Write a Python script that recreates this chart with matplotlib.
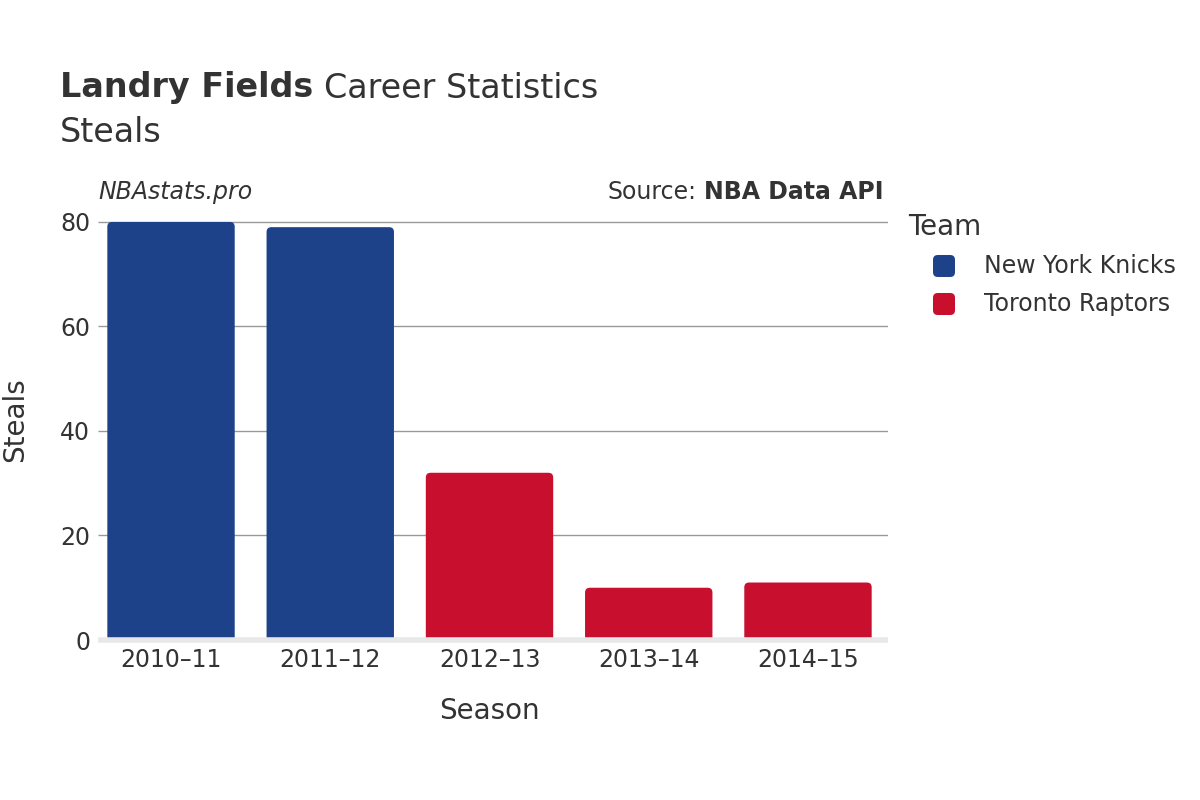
import matplotlib
matplotlib.use('Agg')
import matplotlib.pyplot as plt
from matplotlib.patches import FancyBboxPatch

# data
seasons = ['2010–11', '2011–12', '2012–13', '2013–14', '2014–15']
steals = [80, 79, 32, 10, 11]
teams = ['New York Knicks', 'New York Knicks', 'Toronto Raptors', 'Toronto Raptors', 'Toronto Raptors']
team_names = ['New York Knicks', 'Toronto Raptors']
team_colors = {'New York Knicks': '#1D428A', 'Toronto Raptors': '#C8102E'}

TXT = '#333333'

plt.rcParams['font.family'] = ['DejaVu Sans']
fig = plt.figure(figsize=(12, 8), dpi=100)
ax_l, ax_r = 91.4, 887.6
ax = fig.add_axes([ax_l / 1200, 0.2, (ax_r - ax_l) / 1200, 0.55])

ymax = 84.2
ax.set_xlim(-0.5, 4.5)
ax.set_ylim(0, ymax)

# aspect so rounded corners look round on screen
x_per_px = 5 / (ax_r - ax_l)
y_per_px = ymax / 440
aspect = y_per_px / x_per_px

width = 0.8
for i, (s, v, t) in enumerate(zip(seasons, steals, teams)):
    p = FancyBboxPatch((i - width / 2, -3), width, v + 3,
                       boxstyle='round,pad=0,rounding_size=0.03',
                       mutation_aspect=aspect,
                       facecolor=team_colors[t], edgecolor='none', zorder=3)
    ax.add_patch(p)

yt = [0, 20, 40, 60, 80]
grid_x0 = -0.5 + (98 - ax_l) * x_per_px
ax.hlines(yt[1:], grid_x0, 4.5, color='#999999', linewidth=1, zorder=0)
ax.hlines(0, grid_x0, 4.5, color='#e8e8e8', linewidth=4, zorder=4, clip_on=False)

ax.set_yticks(yt)
ax.set_xticks(range(len(seasons)))
ax.set_xticklabels(seasons)
for sp in ax.spines.values():
    sp.set_visible(False)
ax.tick_params(axis='both', length=0, labelsize=17, labelcolor=TXT)
ax.tick_params(axis='x', pad=6)
ax.tick_params(axis='y', pad=1)
ax.set_xlabel('Season', fontsize=20, color=TXT, labelpad=18)
ax.set_ylabel('Steals', fontsize=20, color=TXT, labelpad=22)

# title in two parts
t1 = fig.text(60 / 1200, 1 - 88 / 800, 'Landry Fields', fontsize=24,
              fontweight='bold', color=TXT, va='center')
fig.canvas.draw()
bb = t1.get_window_extent()
fig.text((bb.x1 + 11) / 1200, 1 - 88 / 800, 'Career Statistics', fontsize=24,
         color=TXT, va='center')
fig.text(60 / 1200, 1 - 132 / 800, 'Steals', fontsize=24, color=TXT, va='center')

fig.text(98 / 1200, 1 - 192 / 800, 'NBAstats.pro', fontsize=17, style='italic',
         color=TXT, va='center')
s2 = fig.text(884 / 1200, 1 - 192 / 800, 'NBA Data API', fontsize=17,
              fontweight='bold', color=TXT, va='center', ha='right')
fig.canvas.draw()
bb2 = s2.get_window_extent()
fig.text((bb2.x0 - 8) / 1200, 1 - 192 / 800, 'Source:', fontsize=17,
         color=TXT, va='center', ha='right')

# legend
fig.text(908 / 1200, 1 - 227 / 800, 'Team', fontsize=20, color=TXT, va='center')
for k, name in enumerate(team_names):
    yc = 266 + k * 38
    mk = FancyBboxPatch((933 / 1200, 1 - (yc + 11) / 800), 22 / 1200, 22 / 800,
                        boxstyle='round,pad=0,rounding_size=0.004',
                        mutation_aspect=1.5,
                        transform=fig.transFigure, facecolor=team_colors[name],
                        edgecolor='none')
    fig.patches.append(mk)
    fig.text(984 / 1200, 1 - yc / 800, name, fontsize=17, color=TXT, va='center')

fig.savefig('out.png', dpi=100)
